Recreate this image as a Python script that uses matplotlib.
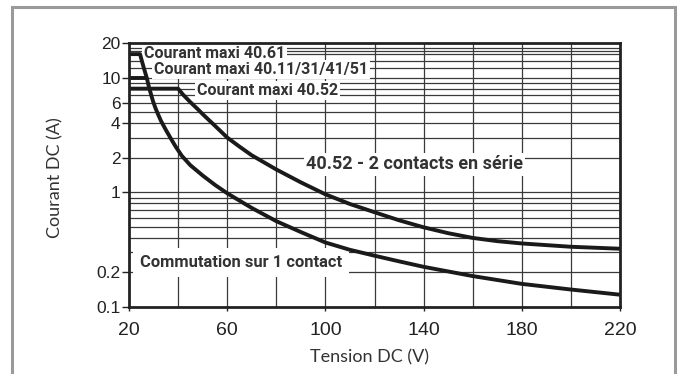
import matplotlib
matplotlib.use("Agg")
import matplotlib.pyplot as plt
from matplotlib.patches import Rectangle

# data
volts_1 = [20, 24.5, 25.3, 26.2, 27.2, 28.1, 29.0, 29.8, 30.8, 31.8, 33, 35, 37, 39, 41.5, 45, 50, 55, 60,
           70, 80, 90, 100, 110, 120, 130, 140, 160, 180, 200, 220]
amps_1 = [16, 16, 13.8, 11.8, 10, 8.3, 7.1, 6.2, 5.4, 4.8, 4.2, 3.5, 2.95, 2.5, 2.08, 1.72, 1.4, 1.16, 0.98,
          0.73, 0.56, 0.45, 0.365, 0.315, 0.28, 0.25, 0.224, 0.186, 0.159, 0.142, 0.128]

volts_max10 = [20, 27.2]
amps_max10 = [10, 10]

volts_2 = [20, 40, 42, 45, 48, 50, 55, 60, 65, 70, 80, 90, 100, 110, 120, 130, 140, 150, 160, 170, 180, 200, 220]
amps_2 = [8, 8, 7.1, 6.1, 5.3, 4.8, 3.8, 3.0, 2.5, 2.1, 1.58, 1.22, 0.96, 0.79, 0.67, 0.57, 0.495, 0.44, 0.40,
          0.375, 0.358, 0.335, 0.322]

x_ticks = [20, 60, 100, 140, 180, 220]
y_ticks = [0.1, 0.2, 1, 2, 4, 6, 10, 20]
y_ticklabels = ["0.1", "0.2", "1", "2", "4", "6", "10", "20"]
x_grid = [40, 60, 80, 100, 120, 140, 160, 180, 200]
y_grid = [18, 17, 16, 14, 12, 10, 9, 8, 7, 6, 5, 4, 3, 2, 1, 0.9, 0.8, 0.7, 0.6, 0.5, 0.4, 0.3, 0.2]

fig = plt.figure(figsize=(6.84, 3.74), dpi=100)
ax = fig.add_axes([129/684, 1 - 307/374, 491/684, 264/374])

# outer grey frame, open at the bottom
fig.patches.append(Rectangle((12/684, -0.2), 663/684, 1.2 - 7/374, transform=fig.transFigure,
                             fill=False, edgecolor="#9a9a9a", linewidth=2.2, clip_on=False))

for v in y_grid:
    ax.axhline(v, color="#3a3a3a", lw=0.9, zorder=1)
for v in x_grid:
    ax.axvline(v, color="#3a3a3a", lw=0.9, zorder=1)

ax.plot(volts_1, amps_1, color="#1a1a1a", lw=2.8, solid_capstyle="butt", solid_joinstyle="round", zorder=5)
ax.plot(volts_max10, amps_max10, color="#1a1a1a", lw=2.8, solid_capstyle="butt", zorder=5)
ax.plot(volts_2, amps_2, color="#1a1a1a", lw=2.8, solid_capstyle="butt", solid_joinstyle="round", zorder=5)

ax.set_yscale("log")
ax.set_xlim(20, 220)
ax.set_ylim(0.1, 20)
ax.set_xticks(x_ticks)
ax.set_yticks(y_ticks)
ax.set_yticklabels(y_ticklabels)
ax.minorticks_off()
ax.tick_params(axis="y", length=5, width=1, pad=1, labelsize=12.5, colors="#222222")
ax.tick_params(axis="x", length=3, width=1, pad=8, labelsize=14, colors="#222222")
for lbl in ax.get_xticklabels() + ax.get_yticklabels():
    lbl.set_family(["Liberation Sans", "DejaVu Sans"])
for s in ax.spines.values():
    s.set_linewidth(2)
    s.set_color("#222222")
    s.set_zorder(6)

lab_font = dict(family=["Lato", "DejaVu Sans"], color="#333333", fontsize=13)
ax.set_xlabel("Tension DC (V)", **lab_font)
ax.set_ylabel("Courant DC (A)", **lab_font)
ax.xaxis.set_label_coords(0.49, -0.16)
ax.yaxis.set_label_coords(-0.133, 0.49)

box = dict(facecolor="white", edgecolor="none", pad=1.5)
note = dict(family=["Roboto", "DejaVu Sans"], weight="bold", color="#333333",
            va="center", ha="left", zorder=3, bbox=box)
ax.text(26.0, 16.3, "Courant maxi 40.61", fontsize=11.5, **note)
ax.text(30.2, 11.8, "Courant maxi 40.11/31/41/51", fontsize=11.5, **note)
ax.text(47.7, 7.7, "Courant maxi 40.52", fontsize=11.5, **note)
ax.text(92.0, 1.75, "40.52 - 2 contacts en série", fontsize=13, **note)
ax.text(24.6, 0.245, "Commutation sur 1 contact", fontsize=11.9,
        **{**note, "bbox": dict(facecolor="white", edgecolor="none", pad=5)})

fig.savefig("out.png", dpi=100)
